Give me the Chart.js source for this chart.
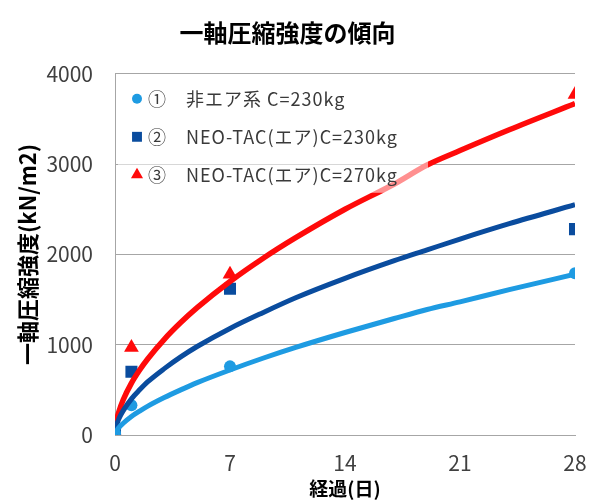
<!DOCTYPE html>
<html lang="ja">
<head>
<meta charset="utf-8">
<title>一軸圧縮強度の傾向</title>
<script src="https://cdn.jsdelivr.net/npm/chart.js@4/dist/chart.umd.min.js"></script>
<style>
html, body { margin: 0; padding: 0; background: #fff; }
#wrap { width: 589px; height: 500px; }
</style>
</head>
<body>
<div id="wrap"><canvas id="strengthChart" width="589" height="500"></canvas></div>
<script>
// 測定値
const days = [0, 1, 7, 28];
const nonAir230 = [20, 330, 760, 1790];
const neoTac230 = [40, 700, 1620, 2280];
const neoTac270 = [30, 970, 1780, 3770];

// 近似曲線
const trendDays = [0, 0.1, 0.25, 0.5, 1, 1.5, 2, 3, 4, 5, 7, 9, 11, 14, 17, 19, 21, 24, 28];
const trendNonAir230 = [0, 45, 85, 130, 205, 265, 320, 415, 500, 580, 720, 850, 970, 1135, 1290, 1390, 1475, 1610, 1780];
const trendNeoTac230 = [0, 110, 185, 270, 400, 500, 590, 735, 865, 980, 1180, 1355, 1520, 1735, 1930, 2050, 2170, 2340, 2550];
const trendNeoTac270 = [0, 160, 265, 390, 575, 720, 845, 1060, 1245, 1410, 1700, 1955, 2185, 2500, 2780, 2990, 3150, 3380, 3670];

const xTicks = [0, 7, 14, 21, 28];
const yTicks = [0, 1000, 2000, 3000, 4000];

const seriesLabels = ['①　非エア系 C=230kg', '②　NEO-TAC(エア)C=230kg', '③　NEO-TAC(エア)C=270kg'];
const colors = ['#1e9be2', '#0a4c9e', '#ff0a0a'];

Chart.defaults.font.family = "'Noto Sans CJK JP', 'Noto Sans', sans-serif";

function toPoints(xs, ys) {
    return xs.map((x, i) => ({ x: x, y: ys[i] }));
}

function trendSet(ys, color, width) {
    return {
        type: 'line',
        label: 'trend',
        data: toPoints(trendDays, ys),
        borderColor: color,
        borderWidth: width,
        pointRadius: 0,
        fill: false,
        cubicInterpolationMode: 'monotone',
        order: 0
    };
}

function markerSet(label, ys, color, style, radius) {
    return {
        type: 'scatter',
        label: label,
        data: toPoints(days, ys),
        backgroundColor: color,
        borderWidth: 0,
        pointStyle: style,
        pointRadius: radius,
        pointHoverRadius: radius,
        showLine: false,
        order: 1
    };
}

const legendStyles = ['circle', 'rect', 'triangle'];
const legendRadius = [5, 7, 7];

// 凡例 (プロット内・半透明背景)
const insideLegend = {
    id: 'insideLegend',
    afterDatasetsDraw(chart) {
        const { ctx, chartArea } = chart;
        ctx.save();
        ctx.fillStyle = 'rgba(255,255,255,0.55)';
        ctx.fillRect(chartArea.left + 3, chartArea.top + 6, 310, 113);
        ctx.font = "18px 'Noto Sans CJK JP'";
        ctx.letterSpacing = '1px';
        ctx.textBaseline = 'middle';
        ctx.textAlign = 'left';
        seriesLabels.forEach((label, i) => {
            const y = chartArea.top + 25 + i * 38;
            ctx.fillStyle = colors[i];
            Chart.helpers.drawPoint(ctx, { pointStyle: legendStyles[i], radius: legendRadius[i], rotation: 0, borderWidth: 0 }, chartArea.left + 22, y);
            ctx.fillStyle = '#3a3a3a';
            ctx.fillText(label, chartArea.left + 33, y);
        });
        ctx.restore();
    }
};

new Chart(document.getElementById('strengthChart'), {
    type: 'scatter',
    data: {
        datasets: [
            trendSet(trendNonAir230, colors[0], 5),
            trendSet(trendNeoTac230, colors[1], 5),
            trendSet(trendNeoTac270, colors[2], 5.5),
            markerSet(seriesLabels[0], nonAir230, colors[0], 'circle', 6),
            markerSet(seriesLabels[1], neoTac230, colors[1], 'rect', 8.5),
            markerSet(seriesLabels[2], neoTac270, colors[2], 'triangle', 8.5)
        ]
    },
    options: {
        responsive: false,
        animation: false,
        layout: { padding: { left: 0, right: 14, top: 0, bottom: 0 } },
        plugins: {
            legend: { display: false },
            tooltip: { enabled: false },
            title: {
                display: true,
                text: '一軸圧縮強度の傾向',
                color: '#000',
                font: { size: 24, weight: 'bold' },
                padding: { top: 18, bottom: 27 }
            }
        },
        scales: {
            x: {
                type: 'linear',
                min: 0,
                max: 28,
                afterBuildTicks: (s) => { s.ticks = xTicks.map(v => ({ value: v })); },
                afterFit: (s) => { s.height = 65; s.paddingLeft = 0; s.paddingRight = 0; },
                ticks: { color: '#404040', font: { size: 21 }, padding: 7 },
                grid: { display: false },
                border: { color: '#a6a6a6', width: 1 },
                title: {
                    display: true,
                    text: '経過(日)',
                    color: '#000',
                    font: { size: 19, weight: 'bold' },
                    padding: { top: 0, bottom: 0 }
                }
            },
            y: {
                min: 0,
                max: 4000,
                afterBuildTicks: (s) => { s.ticks = yTicks.map(v => ({ value: v })); },
                afterFit: (s) => { s.width = 115; },
                ticks: { color: '#404040', font: { size: 21 }, padding: 22, callback: (v) => String(v) },
                grid: { color: '#a6a6a6', drawTicks: false },
                border: { color: '#a6a6a6', width: 1 },
                title: {
                    display: true,
                    text: '一軸圧縮強度(kN/m2)',
                    color: '#000',
                    font: { size: 22, weight: 'bold' },
                    padding: { top: 14, bottom: 0 }
                }
            }
        }
    },
    plugins: [insideLegend]
});
</script>
</body>
</html>
